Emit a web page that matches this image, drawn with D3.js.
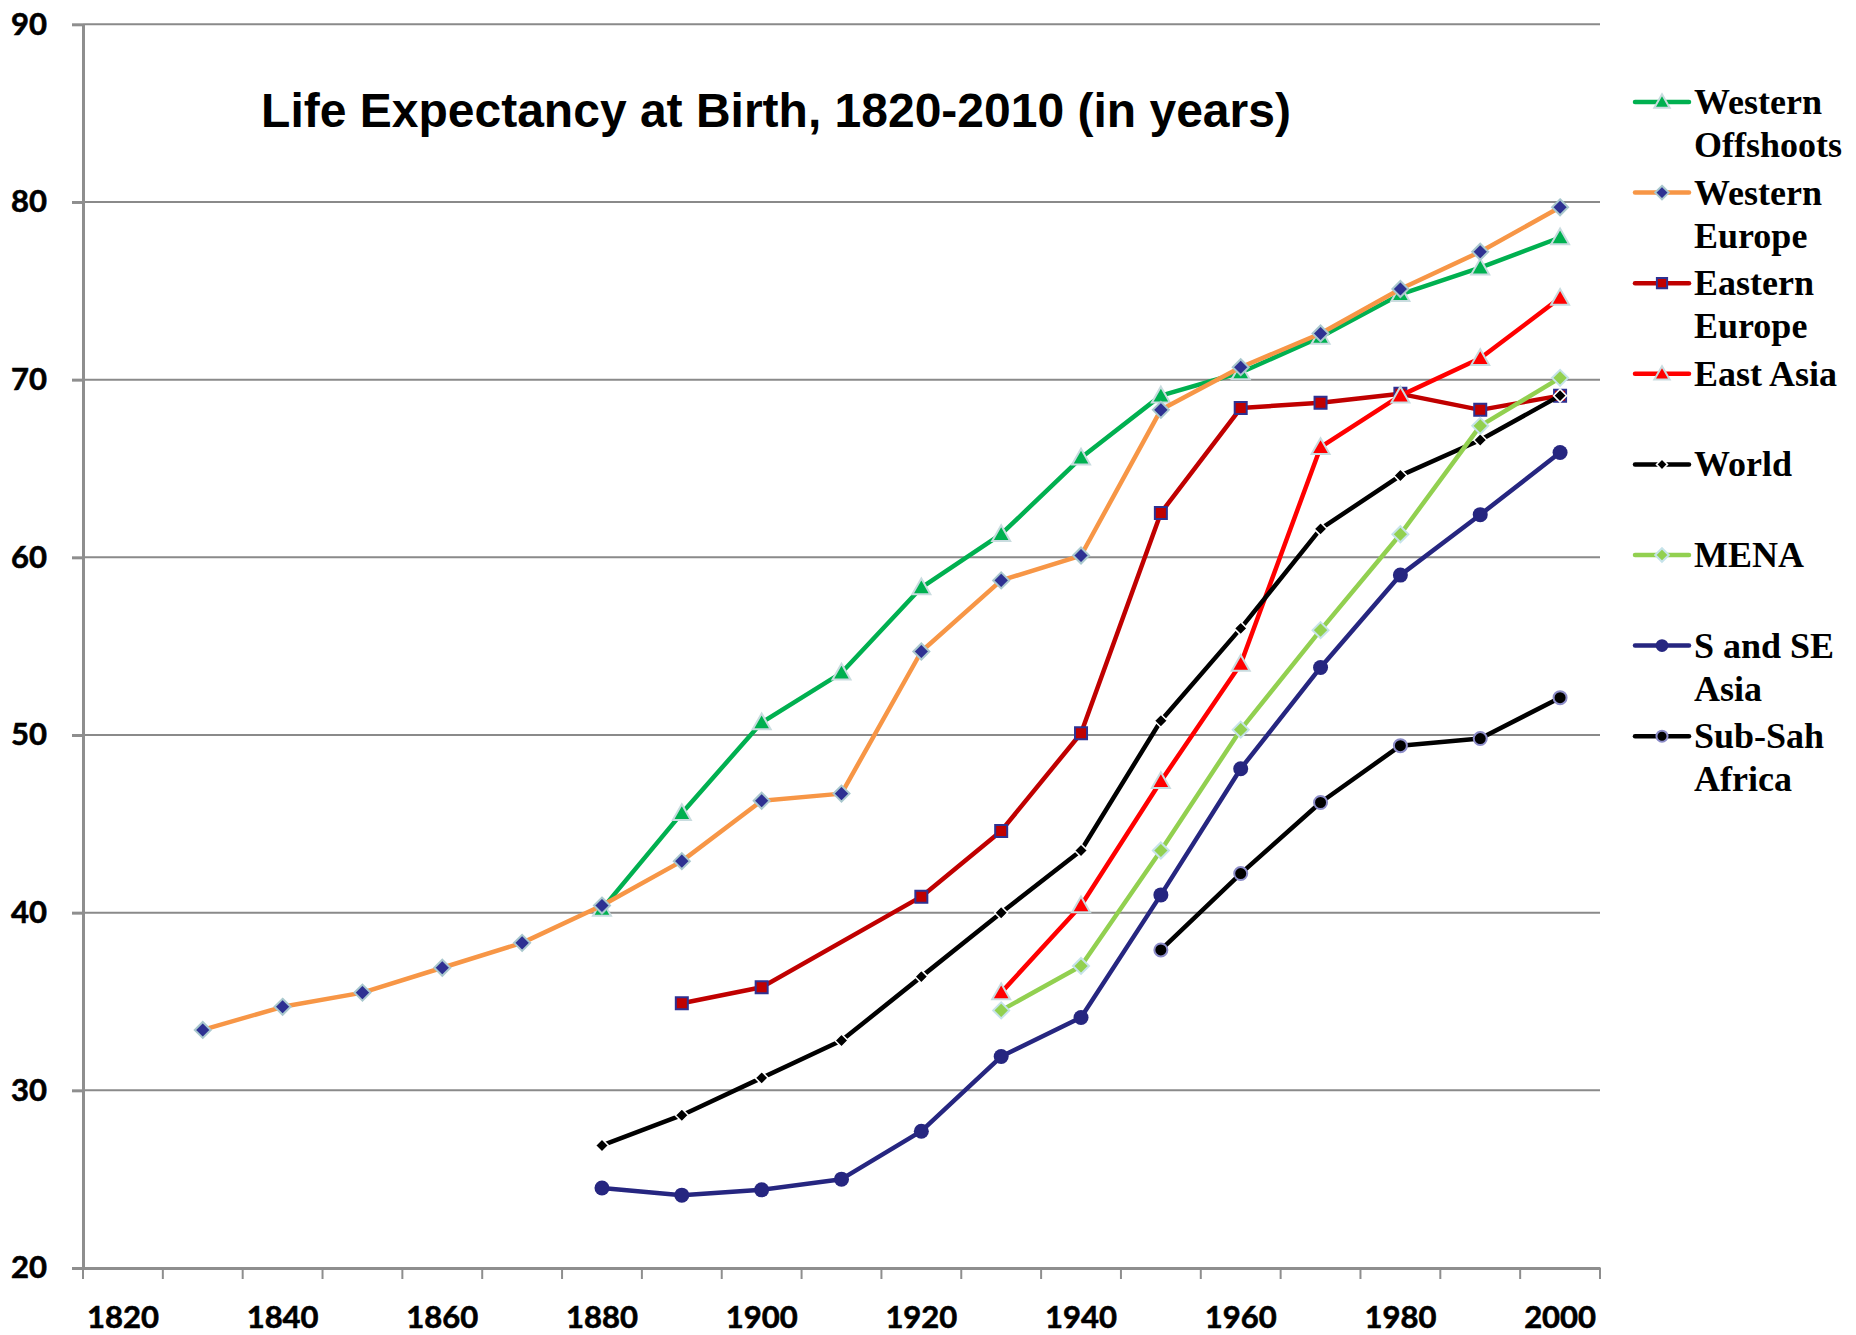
<!DOCTYPE html>
<html>
<head>
<meta charset="utf-8">
<script src="https://cdn.jsdelivr.net/npm/d3@7"></script>
<style>
    body { margin: 0; background: #fff; }
    .tick text { font-family: Lato, "Open Sans", sans-serif; font-weight: 700; font-size: 31px; fill: #000; stroke: #000; stroke-width: 0.6px; }
    .legend text { font-family: "Liberation Serif", "DejaVu Serif", serif; font-weight: 700; font-size: 36px; fill: #000; }
</style>
</head>
<body>
<div id="chart"></div>
<script>
// categories (every 10 years) and tick labels
var years = [1820, 1830, 1840, 1850, 1860, 1870, 1880, 1890, 1900, 1910, 1920, 1930, 1940, 1950, 1960, 1970, 1980, 1990, 2000];
var yearLabels = [1820, 1840, 1860, 1880, 1900, 1920, 1940, 1960, 1980, 2000];
var yTicks = [20, 30, 40, 50, 60, 70, 80, 90];

// series values, one per category (null = no data)
var westernOffshoots = [null, null, null, null, null, null, 40.2, 45.6, 50.7, 53.5, 58.3, 61.3, 65.6, 69.1, 70.4, 72.4, 74.8, 76.3, 78.0];
var westernEurope = [null, 33.4, 34.7, 35.5, 36.9, 38.3, 40.4, 42.9, 46.3, 46.7, 54.7, 58.7, 60.1, 68.3, 70.7, 72.6, 75.1, 77.2, 79.7];
var easternEurope = [null, null, null, null, null, null, null, 34.9, 35.8, null, 40.9, 44.6, 50.1, 62.5, 68.4, 68.7, 69.2, 68.3, 69.1];
var eastAsia = [null, null, null, null, null, null, null, null, null, null, null, 35.5, 40.4, 47.4, 54.0, 66.2, 69.1, 71.2, 74.6];
var world = [null, null, null, null, null, null, 26.9, 28.6, 30.7, 32.8, 36.4, 40.0, 43.5, 50.8, 56.0, 61.6, 64.6, 66.6, 69.1];
var mena = [null, null, null, null, null, null, null, null, null, null, null, 34.5, 37.0, 43.5, 50.3, 55.9, 61.3, 67.4, 70.1];
var southAsia = [null, null, null, null, null, null, 24.5, 24.1, 24.4, 25.0, 27.7, 31.9, 34.1, 41.0, 48.1, 53.8, 59.0, 62.4, 65.9];
var subSahara = [null, null, null, null, null, null, null, null, null, null, null, null, null, 37.9, 42.2, 46.2, 49.4, 49.8, 52.1];

var seriesNames = [["Western", "Offshoots"], ["Western", "Europe"], ["Eastern", "Europe"], ["East Asia"], ["World"], ["MENA"], ["S and SE", "Asia"], ["Sub-Sah", "Africa"]];

var title = "Life Expectancy at Birth, 1820-2010 (in years)";

// marker shapes
var shapes = {
    triangle: function (r) { return "M0," + (-r) + "L" + r + "," + (r * 0.75) + "L" + (-r) + "," + (r * 0.75) + "Z"; },
    diamond: function (r) { return "M0," + (-r) + "L" + r + ",0L0," + r + "L" + (-r) + ",0Z"; },
    square: function (r) { return "M" + (-r) + "," + (-r) + "h" + (2 * r) + "v" + (2 * r) + "h" + (-2 * r) + "Z"; },
    circle: function (r) { return "M" + r + ",0A" + r + "," + r + " 0 1,1 " + (-r) + ",0A" + r + "," + r + " 0 1,1 " + r + ",0Z"; }
};

var series = [
    { values: westernOffshoots, line: "#00B050", shape: "triangle", r: 9, fill: "#00B050", stroke: "#C9DCDF", sw: 2 },
    { values: westernEurope, line: "#F79646", shape: "diamond", r: 8, fill: "#2E3192", stroke: "#A9C8CE", sw: 2 },
    { values: easternEurope, line: "#C00000", shape: "square", r: 6, fill: "#C00000", stroke: "#2E3192", sw: 2 },
    { values: eastAsia, line: "#FF0000", shape: "triangle", r: 9, fill: "#FF0000", stroke: "#C9DCDF", sw: 2 },
    { values: world, line: "#000000", shape: "diamond", r: 6.5, fill: "#000000", stroke: "#FFFFFF", sw: 1.5 },
    { values: mena, line: "#92D050", shape: "diamond", r: 8, fill: "#92D050", stroke: "#C6E3EA", sw: 2 },
    { values: southAsia, line: "#262680", shape: "circle", r: 7.5, fill: "#262680", stroke: "#262680", sw: 0 },
    { values: subSahara, line: "#000000", shape: "circle", r: 6.5, fill: "#000000", stroke: "#8C8CC8", sw: 2 }
];

var width = 1856, height = 1335;
var margin = { top: 24.3, right: 256, bottom: 67, left: 83 };

var svg = d3.select("#chart").append("svg")
    .attr("width", width)
    .attr("height", height);

var xScale = d3.scaleBand()
    .domain(years)
    .range([margin.left, width - margin.right]);

var yScale = d3.scaleLinear()
    .domain([20, 90])
    .range([height - margin.bottom, margin.top]);

var xMid = function (yr) { return xScale(yr) + xScale.bandwidth() / 2; };

// horizontal grid lines
svg.append("g")
    .selectAll("line")
    .data(yTicks.slice(1))
    .enter().append("line")
    .attr("x1", margin.left)
    .attr("x2", width - margin.right)
    .attr("y1", d => yScale(d))
    .attr("y2", d => yScale(d))
    .attr("stroke", "#8A8A8A")
    .attr("stroke-width", 2);

// Y axis
svg.append("g")
    .attr("transform", "translate(" + margin.left + ",0)")
    .call(d3.axisLeft(yScale).tickValues(yTicks).tickSize(11).tickSizeOuter(0).tickPadding(25))
    .call(g => g.select(".domain").attr("stroke", "#8E8E8E").attr("stroke-width", 3))
    .call(g => g.selectAll(".tick line").attr("stroke", "#8E8E8E").attr("stroke-width", 3));

// X axis: labels on every other category
svg.append("g")
    .attr("transform", "translate(0," + (height - margin.bottom) + ")")
    .call(d3.axisBottom(xScale).tickValues(yearLabels).tickSize(0).tickSizeOuter(0).tickPadding(38))
    .call(g => g.select(".domain").attr("stroke", "#8E8E8E").attr("stroke-width", 3));

// tick marks between categories
svg.append("g")
    .selectAll("line")
    .data(years.map(d => xScale(d)).concat([xScale(years[years.length - 1]) + xScale.bandwidth()]))
    .enter().append("line")
    .attr("x1", d => d)
    .attr("x2", d => d)
    .attr("y1", height - margin.bottom)
    .attr("y2", height - margin.bottom + 11)
    .attr("stroke", "#8E8E8E")
    .attr("stroke-width", 2);

// Title
svg.append("text")
    .attr("x", 776)
    .attr("y", 127)
    .attr("text-anchor", "middle")
    .style("font-family", "'Liberation Sans', Arial, sans-serif")
    .style("font-weight", 700)
    .style("font-size", "48px")
    .text(title);

var line = d3.line()
    .x(d => xMid(d.year))
    .y(d => yScale(d.value));

// lines and markers, series by series
series.forEach(function (s) {
    var pts = years.map((yr, i) => ({ year: yr, value: s.values[i] }))
        .filter(d => d.value != null);

    var g = svg.append("g");
    g.append("path")
        .datum(pts)
        .attr("d", line)
        .attr("fill", "none")
        .attr("stroke", s.line)
        .attr("stroke-width", 4.5)
        .attr("stroke-linejoin", "round");

    g.selectAll(".marker")
        .data(pts)
        .enter().append("path")
        .attr("class", "marker")
        .attr("transform", d => "translate(" + xMid(d.year) + "," + yScale(d.value) + ")")
        .attr("d", shapes[s.shape](s.r))
        .attr("fill", s.fill)
        .attr("stroke", s.stroke)
        .attr("stroke-width", s.sw);
});

// Legend
var legend = svg.append("g").attr("class", "legend");
series.forEach(function (s, i) {
    var y0 = 102 + i * 90.6;
    var item = legend.append("g").attr("transform", "translate(0," + y0 + ")");
    item.append("line")
        .attr("x1", 1635).attr("x2", 1689)
        .attr("y1", 0).attr("y2", 0)
        .attr("stroke", s.line)
        .attr("stroke-width", 4.5)
        .attr("stroke-linecap", "round");
    item.append("path")
        .attr("transform", "translate(1662,0)")
        .attr("d", shapes[s.shape](s.r * 0.85))
        .attr("fill", s.fill)
        .attr("stroke", s.stroke)
        .attr("stroke-width", s.sw);
    seriesNames[i].forEach(function (t, j) {
        item.append("text")
            .attr("x", 1694)
            .attr("y", 12 + j * 43)
            .text(t);
    });
});
</script>
</body>
</html>
